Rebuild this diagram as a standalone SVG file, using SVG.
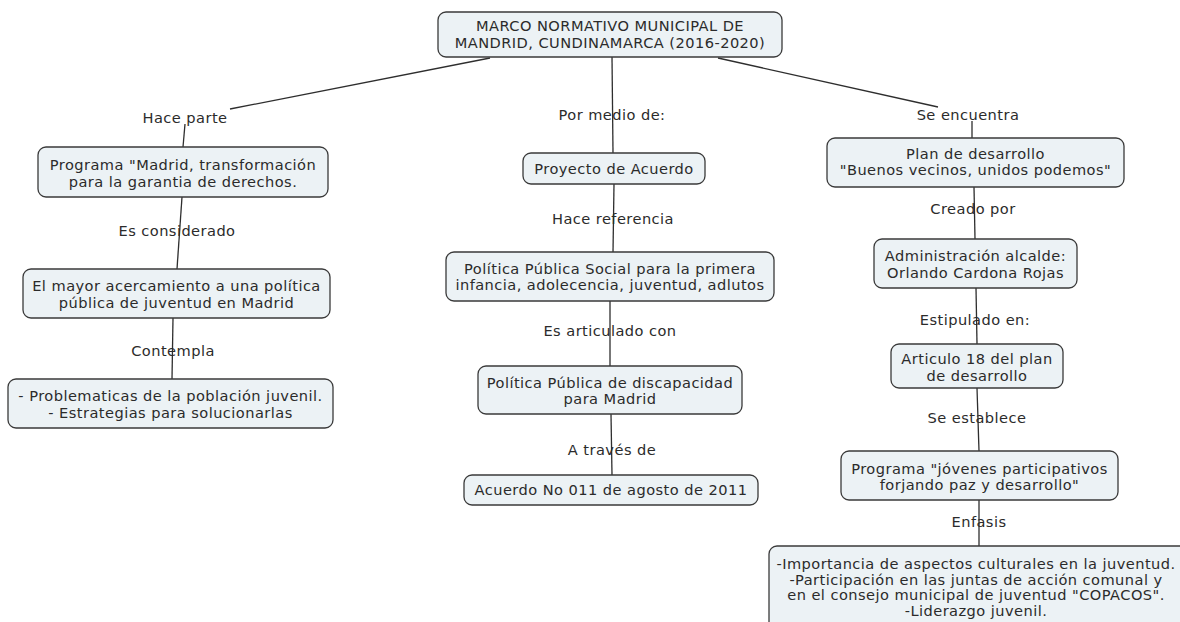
<svg xmlns="http://www.w3.org/2000/svg" width="1180" height="622" viewBox="0 0 1180 622">
<style>
.n rect{fill:#ecf2f5;stroke:#3a3a3a;stroke-width:1.3}
text{font-family:"DejaVu Sans",Verdana,sans-serif;font-size:14.6px;letter-spacing:0.45px;fill:#2b2b2b;text-anchor:middle;dominant-baseline:central}
.c path{fill:none;stroke:#2e2e2e;stroke-width:1.3}
</style>
<rect width="1180" height="622" fill="#ffffff"/>
<g class="c" id="connectors">
<path d="M490,58 L230,109"/>
<path d="M185,124 L183,147"/>
<path d="M182,197 L177,269"/>
<path d="M173,318 L172,379"/>
<path d="M612,57 L613,153"/>
<path d="M614,184 L613,252"/>
<path d="M610,301 L610,366"/>
<path d="M611,414 L612,475"/>
<path d="M718,58 L938,107"/>
<path d="M972,121 L972,138"/>
<path d="M974,187 L975,239"/>
<path d="M976,288 L977,344"/>
<path d="M977,388 L979,451"/>
<path d="M979,500 L979,546"/>
</g>
<g id="labels">
<text x="185" y="117">Hace parte</text>
<text x="177" y="230">Es considerado</text>
<text x="173" y="350">Contempla</text>
<text x="612" y="114">Por medio de:</text>
<text x="613" y="218">Hace referencia</text>
<text x="610" y="330">Es articulado con</text>
<text x="612" y="449">A través de</text>
<text x="968" y="114">Se encuentra</text>
<text x="973" y="208">Creado por</text>
<text x="975" y="319">Estipulado en:</text>
<text x="977" y="417">Se establece</text>
<text x="979" y="521">Enfasis</text>
</g>
<g class="n" id="n-top"><rect x="438" y="12" width="344" height="45" rx="8"/><text x="610" y="25">MARCO NORMATIVO MUNICIPAL  DE</text><text x="610" y="42">MANDRID, CUNDINAMARCA (2016-2020)</text></g>
<g class="n" id="n-programa"><rect x="38" y="147" width="290" height="50" rx="8"/><text x="183" y="164">Programa "Madrid, transformación</text><text x="183" y="181">para la garantia de derechos.</text></g>
<g class="n" id="n-mayor"><rect x="23" y="269" width="307" height="49" rx="8"/><text x="176.5" y="285">El mayor acercamiento a una política</text><text x="176.5" y="302">pública de juventud en Madrid</text></g>
<g class="n" id="n-problematicas"><rect x="8" y="379" width="325" height="49" rx="8"/><text x="170.5" y="395">- Problematicas de la población juvenil.</text><text x="170.5" y="412">- Estrategias para solucionarlas</text></g>
<g class="n" id="n-proyecto"><rect x="523" y="153" width="182" height="31" rx="8"/><text x="614" y="168">Proyecto de Acuerdo</text></g>
<g class="n" id="n-social"><rect x="446" y="252" width="328" height="49" rx="8"/><text x="610" y="268">Política Pública Social para la primera</text><text x="610" y="284">infancia, adolecencia, juventud, adlutos</text></g>
<g class="n" id="n-discapacidad"><rect x="478" y="366" width="264" height="48" rx="8"/><text x="610" y="382">Política Pública de discapacidad</text><text x="610" y="398">para Madrid</text></g>
<g class="n" id="n-acuerdo"><rect x="464" y="475" width="294" height="30" rx="8"/><text x="611" y="489">Acuerdo No 011 de agosto de 2011</text></g>
<g class="n" id="n-plan"><rect x="827" y="138" width="297" height="49" rx="8"/><text x="975.5" y="153">Plan de desarrollo</text><text x="975.5" y="169">"Buenos vecinos, unidos podemos"</text></g>
<g class="n" id="n-admin"><rect x="874" y="239" width="203" height="49" rx="8"/><text x="975.5" y="255">Administración alcalde:</text><text x="975.5" y="272">Orlando Cardona Rojas</text></g>
<g class="n" id="n-articulo"><rect x="891" y="344" width="172" height="44" rx="8"/><text x="977" y="358">Articulo 18 del plan</text><text x="977" y="375">de desarrollo</text></g>
<g class="n" id="n-jovenes"><rect x="841" y="451" width="277" height="49" rx="8"/><text x="979.5" y="468">Programa "jóvenes participativos</text><text x="979.5" y="484">forjando paz y desarrollo"</text></g>
<g class="n" id="n-enfasis"><rect x="769" y="546" width="430" height="100" rx="8"/><text x="976" y="563">-Importancia de aspectos culturales en la juventud.</text><text x="976" y="579">-Participación en las juntas de acción comunal y</text><text x="976" y="594">en el consejo municipal de juventud "COPACOS".</text><text x="976" y="610">-Liderazgo juvenil.</text></g>
</svg>
